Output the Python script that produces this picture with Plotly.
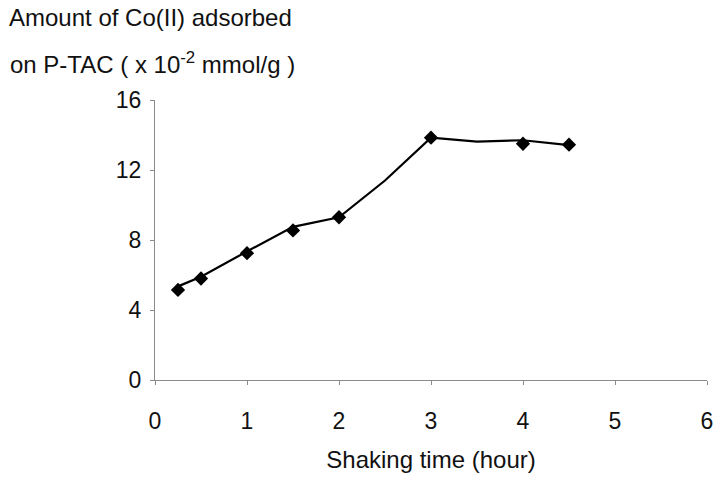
import plotly.graph_objects as go

# Measured points (markers)
time_h = [0.25, 0.5, 1.0, 1.5, 2.0, 3.0, 4.0, 4.5]
co_adsorbed = [5.15, 5.8, 7.25, 8.55, 9.3, 13.85, 13.5, 13.45]

# Drawn connecting curve (slightly offset from markers in the original)
curve_time = [0.25, 0.5, 1.0, 1.5, 2.0, 2.5, 3.0, 3.5, 4.0, 4.5]
curve_val = [5.35, 5.9, 7.35, 8.75, 9.3, 11.4, 13.85, 13.62, 13.7, 13.42]

x_ticks = [0, 1, 2, 3, 4, 5, 6]
y_ticks = [0, 4, 8, 12, 16]

FONT = "Liberation Sans, Arial, sans-serif"

fig = go.Figure()
fig.add_trace(go.Scatter(x=curve_time, y=curve_val, mode="lines",
                         line=dict(color="black", width=2.2), showlegend=False))
fig.add_trace(go.Scatter(x=time_h, y=co_adsorbed, mode="markers",
                         marker=dict(symbol="diamond", size=11, color="black"),
                         showlegend=False))

fig.update_layout(
    width=721, height=478,
    margin=dict(l=155, r=8, t=100, b=98),
    paper_bgcolor="white", plot_bgcolor="white",
    font=dict(family=FONT, size=23, color="#111"),
    xaxis=dict(range=[0, 6], tickvals=x_ticks, ticktext=[str(v) for v in x_ticks],
               showgrid=False, zeroline=False, showline=True, linecolor="#8a8a8a", linewidth=1,
               ticks="outside", ticklen=4, tickcolor="#8a8a8a", ticklabelstandoff=16,
               title=dict(text="Shaking time (hour)", standoff=18, font=dict(size=24))),
    yaxis=dict(range=[0, 16], tickvals=y_ticks, ticktext=[str(v) for v in y_ticks],
               showgrid=False, zeroline=False, showline=True, linecolor="#8a8a8a", linewidth=1,
               ticks="outside", ticklen=4, tickcolor="#8a8a8a", ticklabelstandoff=4),
    annotations=[
        dict(text="Amount of Co(II) adsorbed", xref="paper", yref="paper",
             x=(5 - 155) / 558, y=(380 - 18) / 280, xanchor="left", yanchor="middle",
             showarrow=False, font=dict(size=24)),
        dict(text="on P-TAC ( x 10<sup>-2</sup> mmol/g )", xref="paper", yref="paper",
             x=(6 - 155) / 558, y=(380 - 63) / 280, xanchor="left", yanchor="middle",
             showarrow=False, font=dict(size=24)),
    ],
)

fig.write_html("out.html", config={"displayModeBar": False},
               post_script="document.body.style.margin='0';")
